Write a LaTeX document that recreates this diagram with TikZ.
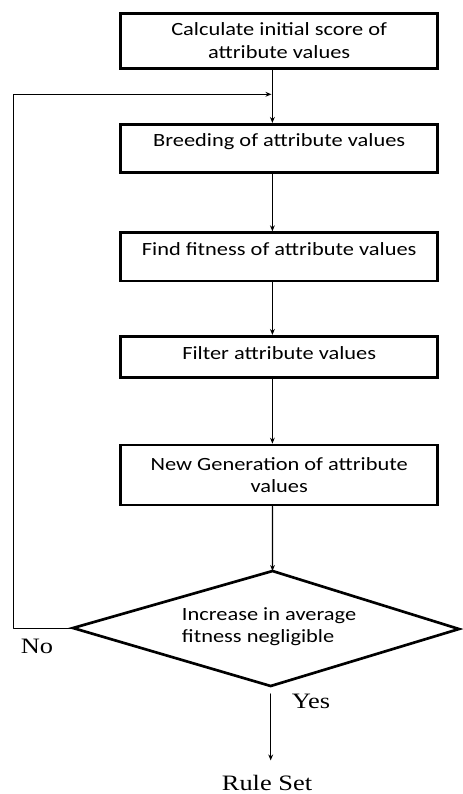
\documentclass[tikz,border=0pt]{standalone}
\usepackage{fontspec}
\newfontfamily\boxfont[FakeStretch=1.2]{Carlito}
\newfontfamily\labfont[FakeStretch=1.2]{Liberation Serif}
\usepackage{tikz}
\usetikzlibrary{arrows.meta,calc}

\begin{document}
\begin{tikzpicture}[line cap=round,line join=round,x=0.75pt,y=-0.75pt,
    >={Stealth[length=4.5pt,width=3.6pt]},
    stage/.style={draw,line width=2pt,line join=miter,minimum width=237.75pt,
        font=\boxfont\fontsize{14}{17}\selectfont,align=center},
    lift/.style={text height=10pt,text depth=#1},
    arr/.style={->,line width=0.9pt},
    lab/.style={font=\labfont\fontsize{16.5}{20}\selectfont,anchor=base}]
    \useasboundingbox (0,0) rectangle (463,794);
    \coordinate (spine) at (272.4,0);
    % process boxes
    \node[stage,minimum height=41.25pt] (score) at (279.2,40.8) {Calculate initial score of\\attribute values};
    \node[stage,minimum height=36pt,lift=12pt] (breed) at (279.2,148.3) {Breeding of attribute values};
    \node[stage,minimum height=36.2pt,lift=12pt] (fit) at (279.2,256.8) {Find fitness of attribute values};
    \node[stage,minimum height=30.75pt,lift=6.7pt] (filter) at (279.2,356.8) {Filter attribute values};
    \node[stage,minimum height=45pt] (newgen) at (279.2,475) {New Generation of attribute\\values};
    % decision
    \coordinate (dt) at (272.5,571);
    \coordinate (dr) at (459,629);
    \coordinate (db) at (270.7,686);
    \coordinate (dl) at (73,628);
    \draw [line width=2pt,line join=miter] (dt) -- (dr) -- (db) -- (dl) -- cycle;
    \node[font=\boxfont\fontsize{14}{17}\selectfont,align=left,anchor=west,inner sep=0pt] (cond) at (181.7,626.7) {Increase in average\\fitness negligible};
    % flow
    \draw[arr] (score.south -| spine) -- (breed.north -| spine);
    \draw[arr] (breed.south -| spine) -- (fit.north -| spine);
    \draw[arr] (fit.south -| spine) -- (filter.north -| spine);
    \draw[arr] (filter.south -| spine) -- (newgen.north -| spine);
    \draw[arr] (newgen.south -| spine) -- (dt);
    % back to breeding
    \coordinate (back) at (13.3,628);
    \coordinate (merge) at (271.5,94.3);
    \draw[arr,line width=0.75pt] (dl) -- (back) |- (merge);
    % exit
    \node[lab,inner ysep=10.5pt] (rules) at (267,790) {Rule Set};
    \draw[arr] (db) ++(0,8) -- (db |- rules.north);
    \node[lab] (no) at (37,653) {No};
    \node[lab] (yes) at (311,708) {Yes};
\end{tikzpicture}
\end{document}
